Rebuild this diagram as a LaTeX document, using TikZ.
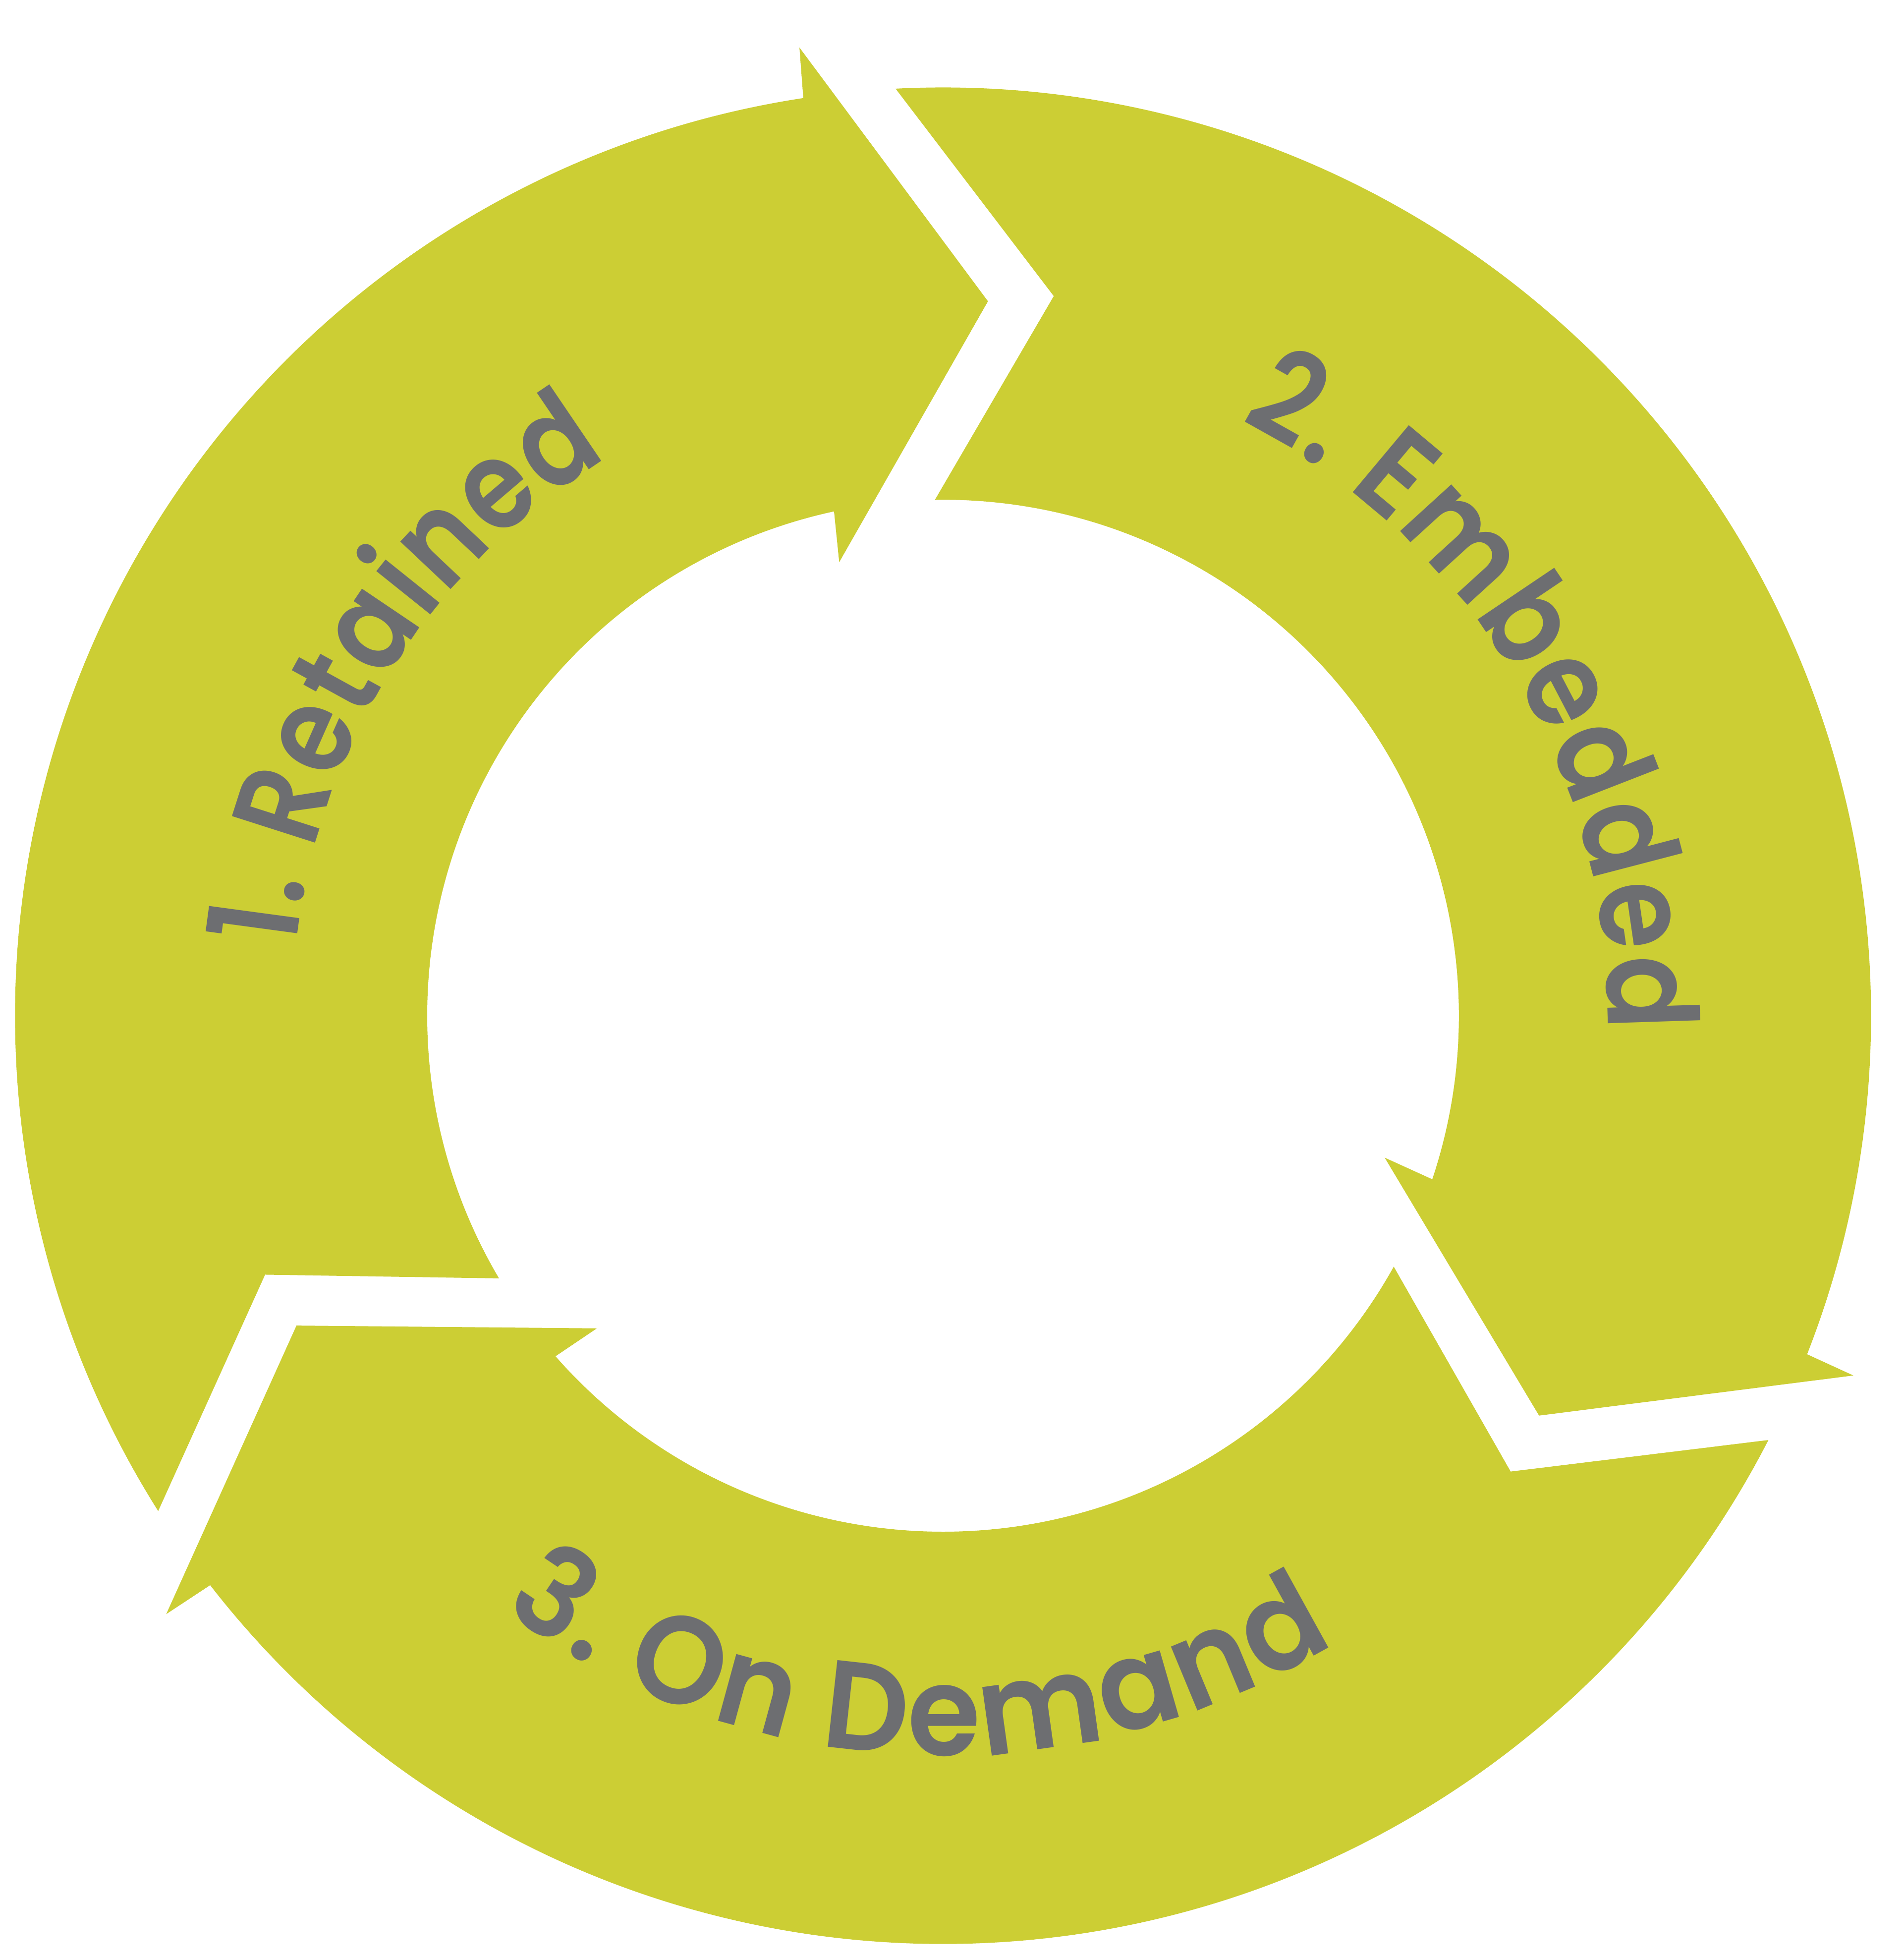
\documentclass[tikz,border=0pt]{standalone}
\usepackage{fontspec}
\setmainfont{Poppins}[UprightFont=* SemiBold]
\usetikzlibrary{decorations.text}
\definecolor{ringgreen}{RGB}{204,206,52}
\definecolor{labelgray}{RGB}{109,110,113}
\newlength\labw
\newcommand\mklabelfont[3]{% #1 csname, #2 text, #3 target length (pt)
  \settowidth\labw{\fontsize{100pt}{100pt}\selectfont #2}%
  \pgfmathsetmacro\labst{min(1,0.97*#3/\labw)}%
  \edef\labtmp{\noexpand\newfontfamily\noexpand#1{Poppins}[UprightFont=* SemiBold, FakeStretch=\labst]}%
  \labtmp}
\mklabelfont{\segAfont}{1. Retained}{481.9}
\mklabelfont{\segBfont}{2. Embedded}{601.3}
\mklabelfont{\segCfont}{3. On Demand}{708.8}
\begin{document}
\begin{tikzpicture}[
  seg/.style={fill=ringgreen, draw=none},
  lbl/.style={decorate, decoration={text along path, text align={fit to path}, text color=labelgray}}
]
\useasboundingbox (-755pt,-755pt) rectangle (769pt,813pt);
% segment 1: Retained
\fill[seg] (212.25:743pt) arc[start angle=212.25, end angle=98.66, radius=743pt]
  -- (98.44:783.5pt) -- (86.4:573pt) -- (102.9:372.4pt) -- (102.2:413pt)
  arc[start angle=102.2, end angle=210.6, radius=413pt]
  -- (200.9:581pt) -- cycle;
% segment 2: Embedded
\fill[seg] (92.93:743pt) arc[start angle=92.93, end angle=-21.39, radius=743pt]
  -- (-21.56:783.7pt) -- (-33.85:574.6pt) -- (-17.81:371.4pt) -- (-18.48:413pt)
  arc[start angle=-18.48, end angle=90.9, radius=413pt]
  -- (81.25:582.8pt) -- cycle;
% segment 3: On Demand
\fill[seg] (332.8:743pt) arc[start angle=332.8, end angle=217.84, radius=743pt]
  -- (217.6:785pt) -- (205.6:574pt) -- (222.08:373.4pt) -- (221.3:413pt)
  arc[start angle=221.3, end angle=330.9, radius=413pt]
  -- (321.24:582.8pt) -- cycle;
% labels
\path[lbl, decoration={text={|\segAfont\fontsize{100pt}{100pt}\selectfont|1. Retained}}]
  (174:521pt) arc[start angle=174, end angle=121, radius=521pt];
\path[lbl, decoration={text={|\segBfont\fontsize{100pt}{100pt}\selectfont|2. Embedded}}]
  (63.46:532pt) arc[start angle=63.46, end angle=-1.3, radius=532pt];
\path[lbl, decoration={text={|\segCfont\fontsize{100pt}{100pt}\selectfont|3. On Demand}}]
  (233.4:592pt) arc[start angle=233.4, end angle=302, radius=592pt];
\end{tikzpicture}
\end{document}
